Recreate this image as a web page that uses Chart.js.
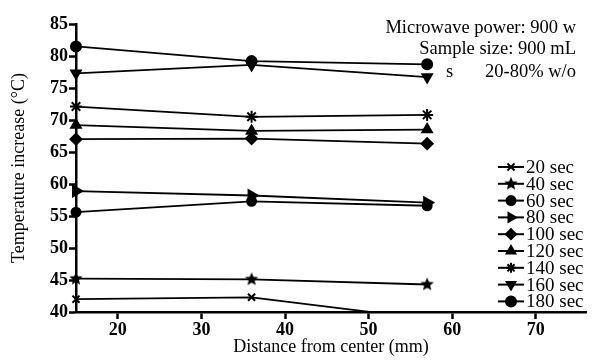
<!DOCTYPE html>
<html lang="en">
  <head>
    <meta charset="UTF-8" />
    <title>Temperature increase</title>
    <script src="https://cdn.jsdelivr.net/npm/chart.js"></script>
    <style>
      body { margin: 0; background: #fff; }
      .wrap { width: 594px; height: 362px; position: relative; }
    </style>
  </head>
  <body>
    <div class="wrap"><canvas id="tempChart" width="594" height="362"></canvas></div>

    <script>
      // distance from center (mm)
      const distances = [15, 36, 57];
      const seriesNames = ["20 sec", "40 sec", "60 sec", "80 sec", "100 sec", "120 sec", "140 sec", "160 sec", "180 sec"];
      const sec20 = [42.0, 42.3, 38.9];
      const sec40 = [45.2, 45.1, 44.3];
      const sec60 = [55.6, 57.3, 56.6];
      const sec80 = [58.9, 58.2, 57.1];
      const sec100 = [67.0, 67.1, 66.3];
      const sec120 = [69.2, 68.3, 68.5];
      const sec140 = [72.1, 70.5, 70.8];
      const sec160 = [77.3, 78.6, 76.7];
      const sec180 = [81.5, 79.2, 78.7];
      const xTicks = [20, 30, 40, 50, 60, 70];
      const yTicks = [40, 45, 50, 55, 60, 65, 70, 75, 80, 85];
      const notes = ["Microwave power: 900 w", "Sample size: 900 mL", "20-80% w/o"];

      // 5-point star marker
      function starCanvas(r) {
        const c = document.createElement("canvas");
        c.width = c.height = r * 2 + 2;
        const g = c.getContext("2d");
        g.fillStyle = "#000";
        g.beginPath();
        for (let i = 0; i < 10; i++) {
          const rad = i % 2 ? r * 0.45 : r;
          const a = -Math.PI / 2 + (i * Math.PI) / 5;
          g.lineTo(c.width / 2 + rad * Math.cos(a), c.height / 2 + rad * Math.sin(a));
        }
        g.closePath();
        g.fill();
        return c;
      }
      const star5 = starCanvas(7);

      const styles = [
        { pointStyle: "crossRot", rot: 0, r: 5 },
        { pointStyle: star5, rot: 0, r: 6 },
        { pointStyle: "circle", rot: 0, r: 4.5 },
        { pointStyle: "triangle", rot: 90, r: 6 },
        { pointStyle: "rectRot", rot: 0, r: 5.5 },
        { pointStyle: "triangle", rot: 0, r: 5.5 },
        { pointStyle: "star", rot: 0, r: 6 },
        { pointStyle: "triangle", rot: 180, r: 5.5 },
        { pointStyle: "circle", rot: 0, r: 5 },
      ];
      const values = [sec20, sec40, sec60, sec80, sec100, sec120, sec140, sec160, sec180];

      const datasets = values.map((v, i) => ({
        label: seriesNames[i],
        data: v.map((y, j) => ({ x: distances[j], y: y })),
        borderColor: "#000",
        backgroundColor: "#000",
        borderWidth: 1.8,
        pointStyle: styles[i].pointStyle,
        pointRotation: styles[i].rot,
        pointRadius: styles[i].r,
        pointBorderWidth: 2,
        tension: 0,
        // only the 20 sec line runs below the axis, so keep the bottom clipped
        clip: { left: 10, top: 10, right: 10, bottom: i === 0 ? 0 : 10 },
      }));

      const serif = "'Liberation Serif', 'DejaVu Serif', serif";

      // legend + notes drawn inside the plot
      const extras = {
        id: "extras",
        afterDraw(chart) {
          const ctx = chart.ctx;
          ctx.save();
          ctx.fillStyle = "#000";
          ctx.font = "18.5px " + serif;
          ctx.textAlign = "right";
          ctx.textBaseline = "middle";
          ctx.fillText(notes[0], 576, 28);
          ctx.fillText(notes[1], 576, 49);
          ctx.fillText(notes[2], 576, 72);
          ctx.textAlign = "left";
          ctx.fillText("s", 446, 72);

          ctx.font = "19px " + serif;
          chart.data.datasets.forEach((ds, i) => {
            const y = 167 + i * 16.8;
            ctx.strokeStyle = "#000";
            ctx.lineWidth = 2;
            ctx.beginPath();
            ctx.moveTo(498, y);
            ctx.lineTo(524, y);
            ctx.stroke();
            Chart.helpers.drawPoint(ctx, {
              pointStyle: ds.pointStyle,
              rotation: ds.pointRotation,
              radius: Math.min(ds.pointRadius, 5),
              borderWidth: 1.5,
            }, 511, y);
            ctx.fillText(ds.label, 526, y + 1);
          });
          ctx.restore();
        },
      };

      const axisGrid = { display: true, drawOnChartArea: false, drawTicks: true, tickLength: 7, tickWidth: 2.5, tickColor: "#000" };

      new Chart(document.getElementById("tempChart"), {
        type: "line",
        data: { datasets: datasets },
        plugins: [extras],
        options: {
          responsive: false,
          animation: false,
          layout: { padding: { top: 24, right: 2, left: 0, bottom: 0 } },
          plugins: { legend: { display: false }, tooltip: { enabled: false } },
          scales: {
            x: {
              type: "linear",
              min: 15,
              max: 76,
              afterBuildTicks: (s) => { s.ticks = xTicks.map((v) => ({ value: v })); },
              afterFit: (s) => { s.height = 50; },
              grid: axisGrid,
              border: { color: "#000", width: 2.5 },
              ticks: { color: "#000", font: { family: serif, size: 18, weight: "bold" }, padding: 1, maxRotation: 0 },
              title: { display: true, text: "Distance from center (mm)", color: "#000", font: { family: serif, size: 18 }, padding: { top: 2 } },
            },
            y: {
              min: 40,
              max: 85,
              afterBuildTicks: (s) => { s.ticks = yTicks.map((v) => ({ value: v })); },
              afterFit: (s) => { s.width = 76; },
              grid: axisGrid,
              border: { color: "#000", width: 2.5 },
              ticks: { color: "#000", font: { family: serif, size: 18, weight: "bold" }, padding: 1 },
              title: { display: true, text: "Temperature increase (°C)", color: "#000", font: { family: serif, size: 18 }, padding: { top: 8, bottom: 0 } },
            },
          },
        },
      });
    </script>
  </body>
</html>
